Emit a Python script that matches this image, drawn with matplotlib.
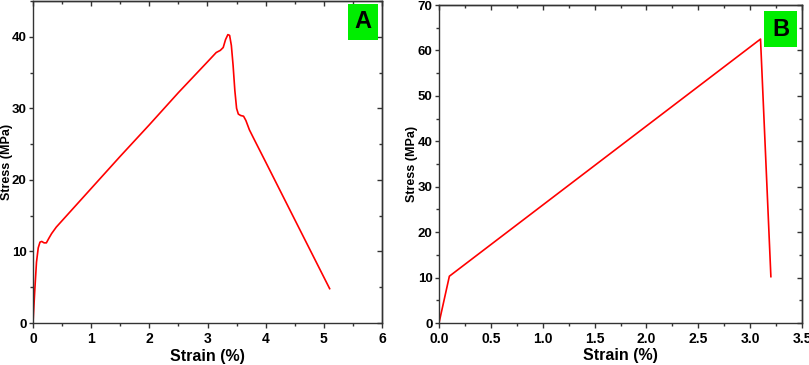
import matplotlib
matplotlib.use("Agg")
import matplotlib.pyplot as plt
from matplotlib.ticker import MultipleLocator
from matplotlib.patches import Rectangle

plt.rcParams['font.family'] = ['Liberation Sans Narrow', 'Liberation Sans', 'DejaVu Sans']

# panel A: stress-strain readings
strain_a = [0.0, 0.03, 0.06, 0.09, 0.12, 0.15, 0.19, 0.23, 0.27, 0.32, 0.4, 0.5,
            1.0, 1.5, 2.0, 2.5, 3.0, 3.15, 3.22, 3.27, 3.31, 3.35, 3.38, 3.41,
            3.44, 3.47, 3.5, 3.53, 3.57, 3.62, 3.66, 3.72, 3.8, 4.0, 4.5, 5.1]
stress_a = [0.0, 4.5, 8.5, 10.5, 11.3, 11.4, 11.2, 11.2, 11.8, 12.5, 13.4, 14.3,
            18.8, 23.3, 27.7, 32.2, 36.5, 37.8, 38.1, 38.5, 39.6, 40.3, 40.2, 38.8,
            36.0, 32.5, 30.0, 29.2, 29.0, 28.9, 28.3, 27.0, 25.7, 22.5, 14.45, 4.8]

# panel B
strain_b = [0.0, 0.1, 3.1, 3.2]
stress_b = [0.0, 10.3, 62.5, 10.2]

fig = plt.figure(figsize=(8.09, 3.65), dpi=100)
ax_a = fig.add_axes([33 / 809, 42 / 365, 349 / 809, 322 / 365])
ax_b = fig.add_axes([439 / 809, 42 / 365, 363 / 809, 318 / 365])

EDGE = '#333333'


def style(ax, xmaj, xmin, ymaj, ymin):
    ax.xaxis.set_major_locator(MultipleLocator(xmaj))
    ax.xaxis.set_minor_locator(MultipleLocator(xmin))
    ax.yaxis.set_major_locator(MultipleLocator(ymaj))
    ax.yaxis.set_minor_locator(MultipleLocator(ymin))
    ax.tick_params(which='both', direction='out', top=False, right=False,
                   labelsize=10, width=1, color=EDGE)
    ax.tick_params(axis='y', labelsize=9.5)
    ax.tick_params(axis='x', which='major', length=3.5, pad=3)
    ax.tick_params(axis='y', which='major', length=3, pad=1.5)
    ax.tick_params(which='minor', length=2)
    # mirrored inward ticks on top and right, no labels
    sx = ax.secondary_xaxis('top')
    sy = ax.secondary_yaxis('right')
    sx.xaxis.set_major_locator(MultipleLocator(xmaj))
    sx.xaxis.set_minor_locator(MultipleLocator(xmin))
    sy.yaxis.set_major_locator(MultipleLocator(ymaj))
    sy.yaxis.set_minor_locator(MultipleLocator(ymin))
    sx.tick_params(which='both', direction='in', width=1, color=EDGE, labeltop=False)
    sy.tick_params(which='both', direction='in', width=1, color=EDGE, labelright=False)
    for s in (sx, sy):
        s.tick_params(which='major', length=3.5)
        s.tick_params(which='minor', length=2)
    for s in list(ax.spines.values()) + [sx.spines['top'], sy.spines['right']]:
        s.set_color(EDGE)
        s.set_linewidth(1)


def panel_tag(ax, letter, x0, y0, w, h):
    ax.add_patch(Rectangle((x0, y0), w, h, transform=ax.transAxes,
                           fc='#00ee00', ec='none', zorder=5, clip_on=False))
    ax.text(x0 + w / 2, y0 + h / 2, letter, transform=ax.transAxes,
            ha='center', va='center', fontsize=17, fontweight='bold',
            family=['Liberation Sans', 'DejaVu Sans'], zorder=6)


ax_a.plot(strain_a, stress_a, color='red', lw=1.2)
ax_a.set_xlim(0, 6)
ax_a.set_ylim(0, 45)
style(ax_a, 1, 0.5, 10, 5)
ax_a.set_yticks([0, 10, 20, 30, 40])
for lab in ax_a.get_xticklabels() + ax_a.get_yticklabels():
    lab.set_fontweight('bold')
ax_a.set_xlabel('Strain (%)', fontsize=11.5, fontweight='bold')
ax_a.xaxis.set_label_coords(0.5, -0.08)
ax_a.set_ylabel('Stress (MPa)', fontsize=9, fontweight='bold',
                family=['Liberation Sans', 'DejaVu Sans'])
ax_a.yaxis.set_label_coords(-0.058, 0.5)
panel_tag(ax_a, 'A', 0.9026, 0.8789, 0.0859, 0.1118)

ax_b.plot(strain_b, stress_b, color='red', lw=1.2)
ax_b.set_xlim(0, 3.5)
ax_b.set_ylim(0, 70)
style(ax_b, 0.5, 0.25, 10, 5)
ax_b.set_xticks([0, 0.5, 1, 1.5, 2, 2.5, 3, 3.5])
ax_b.set_xticklabels(['0.0', '0.5', '1.0', '1.5', '2.0', '2.5', '3.0', '3.5'])
for lab in ax_b.get_xticklabels() + ax_b.get_yticklabels():
    lab.set_fontweight('bold')
ax_b.set_xlabel('Strain (%)', fontsize=11.5, fontweight='bold')
ax_b.xaxis.set_label_coords(0.5, -0.08)
ax_b.set_ylabel('Stress (MPa)', fontsize=9, fontweight='bold',
                family=['Liberation Sans', 'DejaVu Sans'])
ax_b.yaxis.set_label_coords(-0.058, 0.5)
panel_tag(ax_b, 'B', 0.8953, 0.868, 0.0909, 0.113)

fig.savefig('out.png', dpi=100)
